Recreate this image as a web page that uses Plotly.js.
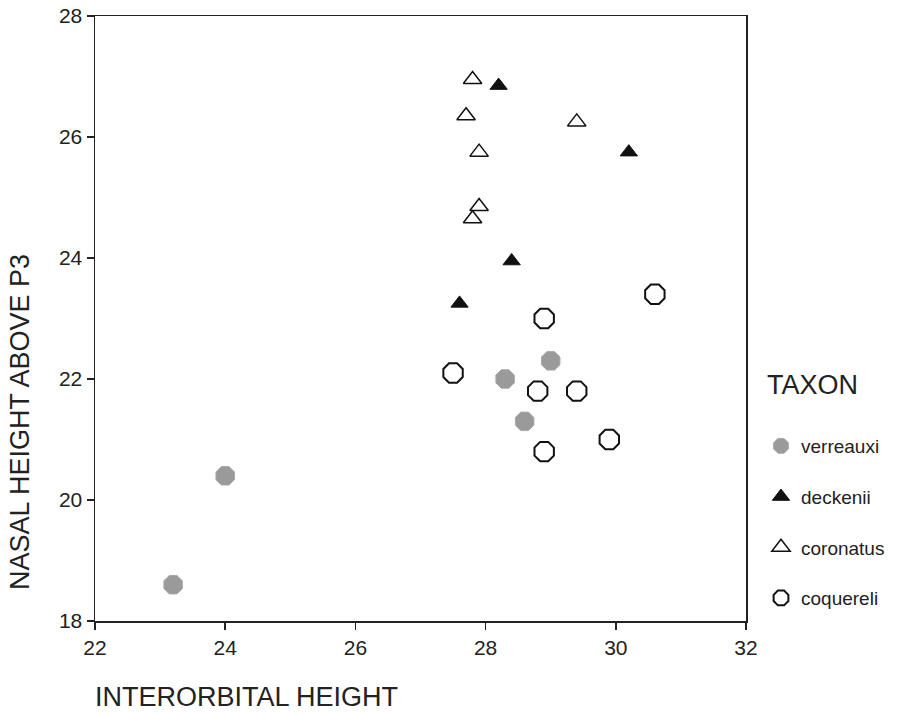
<!DOCTYPE html>
<html>
<head>
<meta charset="utf-8">
<script src="https://cdn.plot.ly/plotly-3.0.1.min.js"></script>
<style>
  html, body { margin: 0; padding: 0; background: #fff; }
  #chart { width: 909px; height: 712px; }
</style>
</head>
<body>
<div id="chart"></div>
<script>
// Interorbital height (x) vs nasal height above P3 (y), by taxon
const verreauxiX = [23.2, 24.0, 28.3, 29.0, 28.6];
const verreauxiY = [18.6, 20.4, 22.0, 22.3, 21.3];

const deckeniiX = [28.2, 30.2, 28.4, 27.6];
const deckeniiY = [26.85, 25.75, 23.95, 23.25];

const coronatusX = [27.8, 27.7, 29.4, 27.9, 27.9, 27.8];
const coronatusY = [26.95, 26.35, 26.25, 25.75, 24.85, 24.65];

const coquereliX = [28.9, 27.5, 28.8, 29.4, 29.9, 28.9, 30.6];
const coquereliY = [23.0, 22.1, 21.8, 21.8, 21.0, 20.8, 23.4];

const xTicks = [22, 24, 26, 28, 30, 32];
const yTicks = [18, 20, 22, 24, 26, 28];

const FONT = "'Liberation Sans', Arial, Helvetica, sans-serif";
const INK = '#222222';

const traces = [
  {
    name: 'verreauxi', x: verreauxiX, y: verreauxiY,
    type: 'scatter', mode: 'markers', legendgroup: 'a',
    marker: { symbol: 'octagon', size: 20, color: '#9a9a9a',
              line: { color: '#a8a8a8', width: 1 } }
  },
  {
    name: 'deckenii', x: deckeniiX, y: deckeniiY,
    type: 'scatter', mode: 'markers', legendgroup: 'b',
    marker: { symbol: 'triangle-up', size: 15, color: '#111111',
              line: { color: '#111111', width: 1 } }
  },
  {
    name: 'coronatus', x: coronatusX, y: coronatusY,
    type: 'scatter', mode: 'markers', legendgroup: 'c',
    marker: { symbol: 'triangle-up-open', size: 16, color: '#111111',
              line: { color: '#111111', width: 1.5 } }
  },
  {
    name: 'coquereli', x: coquereliX, y: coquereliY,
    type: 'scatter', mode: 'markers', legendgroup: 'd',
    marker: { symbol: 'octagon-open', size: 21, color: '#111111',
              line: { color: '#111111', width: 2 } }
  }
];

const axisCommon = {
  showgrid: false, zeroline: false,
  showline: true, linecolor: INK, linewidth: 1.5, mirror: true,
  ticks: 'outside', ticklen: 7, tickwidth: 1.5, tickcolor: INK,
  tickfont: { family: FONT, size: 21, color: INK }
};

// plot area in pixels: x 95..746, y 16..621
const PL = 95, PW = 651, PB = 621, PH = 605;
const px = v => (v - PL) / PW;
const py = v => (PB - v) / PH;

const layout = {
  width: 909, height: 712,
  margin: { l: 95, r: 163, t: 16, b: 91 },
  paper_bgcolor: '#ffffff', plot_bgcolor: '#ffffff',
  showlegend: true,
  xaxis: Object.assign({}, axisCommon, {
    range: [22, 32], tickvals: xTicks, ticktext: xTicks.map(String)
  }),
  yaxis: Object.assign({}, axisCommon, {
    range: [18, 28], tickvals: yTicks, ticktext: yTicks.map(String)
  }),
  legend: {
    xref: 'container', yref: 'container',
    x: 761 / 909, y: 1 - 427 / 712, xanchor: 'left', yanchor: 'top',
    traceorder: 'grouped', tracegroupgap: 23,
    itemsizing: 'trace',
    font: { family: FONT, size: 19, color: INK },
    bgcolor: 'rgba(0,0,0,0)'
  },
  annotations: [
    {
      text: 'TAXON', xref: 'paper', yref: 'paper',
      x: px(765), y: py(385), xanchor: 'left', yanchor: 'middle',
      showarrow: false,
      font: { family: FONT, size: 27, color: INK }
    },
    {
      text: 'NASAL HEIGHT ABOVE P3', xref: 'paper', yref: 'paper',
      x: px(20), y: py(422), xanchor: 'center', yanchor: 'middle',
      textangle: -90, showarrow: false,
      font: { family: FONT, size: 27, color: INK }
    },
    {
      text: 'INTERORBITAL HEIGHT', xref: 'paper', yref: 'paper',
      x: px(93), y: py(697), xanchor: 'left', yanchor: 'middle',
      showarrow: false,
      font: { family: FONT, size: 27, color: INK }
    }
  ]
};

Plotly.newPlot('chart', traces, layout, { displayModeBar: false, staticPlot: true });
</script>
</body>
</html>
